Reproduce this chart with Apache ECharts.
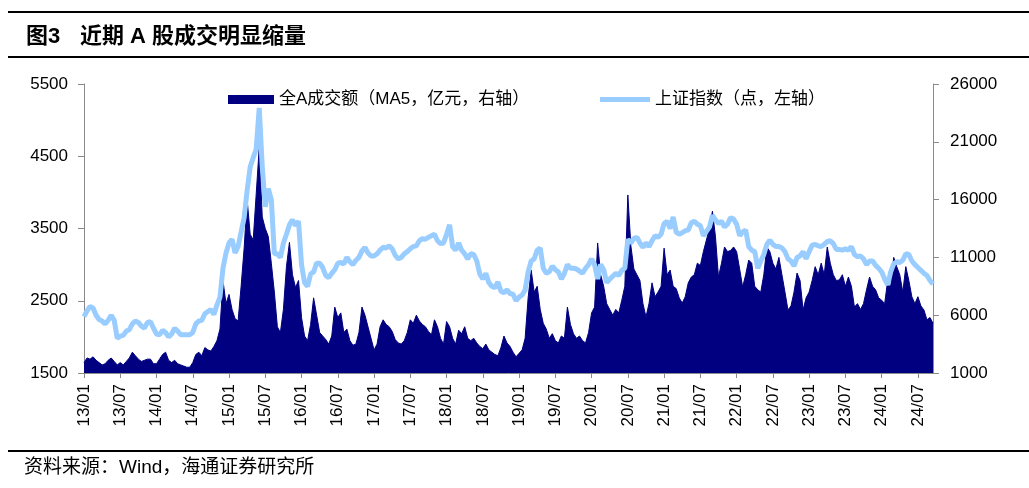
<!DOCTYPE html>
<html>
<head>
<meta charset="utf-8">
<script src="https://cdn.jsdelivr.net/npm/echarts@6/dist/echarts.min.js"></script>
<style>
html,body{margin:0;padding:0;background:#fff;}
#chart{width:1029px;height:488px;}
</style>
</head>
<body>
<div id="chart"></div>
<script>
// x-axis tick labels (every 6 months)
const tickLabels = ['13/01','13/07','14/01','14/07','15/01','15/07','16/01','16/07','17/01','17/07','18/01','18/07',
  '19/01','19/07','20/01','20/07','21/01','21/07','22/01','22/07','23/01','23/07','24/01','24/07'];
const leftTicks = [1500, 2500, 3500, 4500, 5500];
const rightTicks = [1000, 6000, 11000, 16000, 21000, 26000];

// semi-monthly periods, 2013-01 to 2024-09
const years = [2013,2014,2015,2016,2017,2018,2019,2020,2021,2022,2023,2024];
const periods = [];
years.forEach(function(y){
  for (let m = 1; m <= 12; m++) {
    if (y === 2024 && m > 9) break;
    const mm = (m < 10 ? '0' : '') + m;
    periods.push(y + '-' + mm + ' 上');
    periods.push(y + '-' + mm + ' 下');
  }
});

// 上证指数 (points, left axis), two readings per month
const shIndex = [
  2280,2360, 2420,2400, 2300,2240, 2220,2180, 2230,2300, 2230,1980, 2010,2020, 2080,2100, 2180,2220, 2200,2150, 2120,2200, 2210,2120,
  2040,2030, 2090,2060, 2000,2040, 2120,2080, 2030,2030, 2030,2030, 2060,2180, 2220,2230, 2320,2350, 2380,2310, 2440,2550, 2950,3160,
  3300,3350, 3160,3250, 3450,3650, 4030,4350, 4480,4600, 5170,4350, 3800,4050, 3900,3150, 3150,3100, 3300,3420, 3550,3620, 3540,3600,
  3000,2750, 2700,2870, 2900,3020, 3020,2960, 2850,2820, 2880,2930, 3020,3030, 3010,3100, 3040,3000, 3060,3100, 3190,3240, 3160,3120,
  3120,3150, 3200,3240, 3230,3260, 3220,3130, 3080,3100, 3150,3180, 3220,3250, 3260,3330, 3360,3350, 3380,3400, 3420,3330, 3290,3300,
  3420,3550, 3250,3200, 3300,3200, 3150,3080, 3150,3140, 3050,2870, 2800,2880, 2750,2700, 2680,2760, 2630,2610, 2650,2600, 2590,2500,
  2550,2580, 2650,2900, 3050,3080, 3200,3230, 2950,2880, 2900,2980, 2930,2900, 2800,2880, 3000,2950, 2950,2940, 2910,2880, 2950,3000,
  3080,3000, 2800,3000, 2930,2750, 2800,2840, 2880,2850, 2920,2950, 3350,3300, 3360,3380, 3300,3240, 3300,3250, 3330,3400, 3380,3420,
  3570,3600, 3500,3660, 3450,3420, 3440,3470, 3480,3580, 3600,3560, 3540,3400, 3460,3520, 3680,3620, 3570,3600, 3520,3560, 3650,3630,
  3560,3400, 3450,3480, 3250,3200, 3180,2950, 3050,3140, 3280,3340, 3280,3250, 3250,3230, 3180,3080, 3050,2980, 3100,3120, 3180,3080,
  3180,3270, 3280,3260, 3250,3280, 3320,3330, 3290,3210, 3210,3200, 3220,3200, 3250,3140, 3110,3120, 3080,3000, 3050,3050, 2990,2950,
  2900,2800, 2720,2900, 3010,3040, 3030,3060, 3150,3140, 3050,3000, 2960,2920, 2880,2850, 2780,2730
];

// 全A成交额 MA5 (亿元, right axis), two readings per month
const turnover = [
  1900,2300, 2200,2400, 2100,1900, 1700,1800, 2100,2300, 2000,1700, 1900,1700, 2000,2300, 2800,2500, 2200,2000, 2100,2200, 2200,1800,
  1800,2200, 2600,2800, 2100,1900, 2100,1800, 1700,1600, 1500,1500, 1900,2600, 2800,2500, 3200,3000, 2900,3300, 3800,4800, 9000,7000,
  7800,6500, 5700,5500, 8500,11800, 16000,13000, 12500,16500, 20500,14500, 13500,12800, 10500,8000, 5000,4500, 6500,10200, 12300,9500, 8400,9000,
  5800,4200, 3800,5200, 7500,6000, 4500,4200, 3900,3500, 4200,6700, 5800,6200, 4500,4800, 3800,3400, 3500,4500, 6700,6000, 5000,4000,
  3000,3500, 5000,5600, 5200,5000, 4600,3900, 3600,3500, 3800,4500, 5600,5300, 6000,5500, 5200,5000, 4600,4300, 5600,5000, 4000,3500,
  5450,5000, 4000,3500, 4700,4400, 5000,4000, 3800,4000, 3600,3300, 3100,3500, 3000,2800, 2600,2500, 3200,4200, 3600,3300, 2800,2400,
  2700,3000, 4000,7500, 9900,8000, 8500,6500, 5300,4800, 4000,4400, 3800,3600, 4200,4000, 6700,5200, 4400,4000, 4200,3800, 3600,4500,
  6200,6700, 12250,9500, 8500,7000, 6500,6000, 6500,6200, 7300,8500, 16400,12000, 10000,9500, 9000,7000, 5850,7000, 8800,7600, 8000,8500,
  11800,9500, 9900,8500, 8300,7500, 7050,7600, 8800,9300, 9500,10500, 10300,11500, 12500,13500, 15000,12800, 9300,10500, 11900,11500, 11600,11900,
  11500,10000, 8440,9500, 10770,10500, 8500,8200, 8000,9500, 11900,11500, 10500,10000, 11000,9500, 8000,6450, 6800,8000, 9650,9000, 6450,7500,
  8000,9000, 10200,9500, 10500,9500, 11900,10500, 9500,9000, 9050,9500, 8500,9300, 8500,6700, 7000,6500, 7000,8200, 9300,8500, 8200,7500,
  7300,7000, 9000,8500, 11000,10200, 9500,8000, 10200,9000, 7600,7000, 7600,6800, 6450,5600, 5800,5300
];

const seriesNames = ['全A成交额（MA5，亿元，右轴）', '上证指数（点，左轴）'];
const FONT = "'Liberation Sans', Arial, 'Noto Sans CJK SC', sans-serif";
const axisGray = '#8a8a8a';
const plain = function(v){ return String(v); };

const chart = echarts.init(document.getElementById('chart'), null, {renderer: 'canvas'});
chart.setOption({
  animation: false,
  backgroundColor: '#ffffff',
  textStyle: {fontFamily: FONT},
  grid: {left: 84, right: 96, top: 84, bottom: 115, containLabel: false},
  legend: [
    {
      left: 223, top: 86, itemWidth: 46, itemHeight: 9, itemGap: 6,
      data: [{name: seriesNames[0], icon: 'rect'}],
      textStyle: {fontSize: 17, color: '#000', fontFamily: FONT}
    },
    {
      left: 595, top: 86, itemWidth: 50, itemHeight: 5,
      data: [{name: seriesNames[1], icon: 'rect'}],
      textStyle: {fontSize: 17, color: '#000', fontFamily: FONT}
    }
  ],
  xAxis: {
    type: 'category',
    data: periods,
    boundaryGap: false,
    axisLine: {lineStyle: {color: axisGray, width: 1}},
    axisTick: {show: true, length: 5, interval: function(i){ return i % 12 === 0; }, lineStyle: {color: axisGray}},
    axisLabel: {
      interval: function(i){ return i % 12 === 0; },
      rotate: 90,
      margin: 11,
      fontSize: 17,
      color: '#000',
      fontFamily: FONT,
      formatter: function(v, i){ return tickLabels[Math.round(i / 12)] || ''; }
    },
    splitLine: {show: false}
  },
  yAxis: [
    {
      type: 'value', position: 'left', min: 1500, max: 5500,
      axisLine: {show: true, lineStyle: {color: axisGray}},
      axisTick: {show: true, length: 6, customValues: leftTicks, lineStyle: {color: axisGray}},
      axisLabel: {customValues: leftTicks, formatter: plain, fontSize: 17, color: '#000', margin: 16, fontFamily: FONT},
      splitLine: {show: false}
    },
    {
      type: 'value', position: 'right', min: 1000, max: 26000,
      axisLine: {show: true, lineStyle: {color: axisGray}},
      axisTick: {show: true, length: 6, customValues: rightTicks, lineStyle: {color: axisGray}},
      axisLabel: {customValues: rightTicks, formatter: plain, fontSize: 17, color: '#000', margin: 17, fontFamily: FONT},
      splitLine: {show: false}
    }
  ],
  series: [
    {
      name: seriesNames[0],
      type: 'line',
      yAxisIndex: 1,
      data: turnover,
      symbol: 'none',
      showSymbol: false,
      lineStyle: {width: 1, color: '#000080'},
      itemStyle: {color: '#000080'},
      areaStyle: {color: '#000080', opacity: 1},
      z: 2
    },
    {
      name: seriesNames[1],
      type: 'line',
      yAxisIndex: 0,
      data: shIndex,
      symbol: 'none',
      showSymbol: false,
      lineStyle: {width: 5, color: '#99CCFF'},
      itemStyle: {color: '#99CCFF'},
      z: 3
    }
  ],
  graphic: [
    {type: 'line', shape: {x1: 8, y1: 12, x2: 1029, y2: 12}, style: {stroke: '#000', lineWidth: 2}},
    {type: 'line', shape: {x1: 8, y1: 57, x2: 1029, y2: 57}, style: {stroke: '#000', lineWidth: 2}},
    {type: 'line', shape: {x1: 8, y1: 451, x2: 1029, y2: 451}, style: {stroke: '#000', lineWidth: 2}},
    {type: 'text', x: 26, y: 37, style: {text: '图3', font: "bold 22px " + FONT, fill: '#000', textVerticalAlign: 'middle'}},
    {type: 'text', x: 80, y: 37, style: {text: '近期 A 股成交明显缩量', font: "bold 22px " + FONT, fill: '#000', textVerticalAlign: 'middle'}},
    {type: 'text', x: 24, y: 468, style: {text: '资料来源：Wind，海通证券研究所', font: "19px " + FONT, fill: '#000', textVerticalAlign: 'middle'}}
  ]
});
</script>
</body>
</html>
